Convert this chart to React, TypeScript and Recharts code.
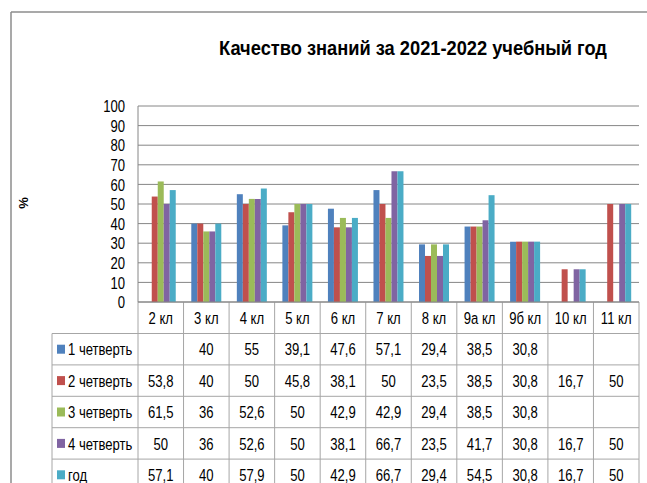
import React from 'react';
import { BarChart, Bar, XAxis, YAxis, CartesianGrid, Customized } from 'recharts';

const categories = ['2 кл', '3 кл', '4 кл', '5 кл', '6 кл', '7 кл', '8 кл', '9а кл', '9б кл', '10 кл', '11 кл'];
const q1 = [null, 40, 55, 39.1, 47.6, 57.1, 29.4, 38.5, 30.8, null, null];
const q2 = [53.8, 40, 50, 45.8, 38.1, 50, 23.5, 38.5, 30.8, 16.7, 50];
const q3 = [61.5, 36, 52.6, 50, 42.9, 42.9, 29.4, 38.5, 30.8, null, null];
const q4 = [50, 36, 52.6, 50, 38.1, 66.7, 23.5, 41.7, 30.8, 16.7, 50];
const year = [57.1, 40, 57.9, 50, 42.9, 66.7, 29.4, 54.5, 30.8, 16.7, 50];
const seriesNames = ['1 четверть', '2 четверть', '3 четверть', '4 четверть', 'год'];
const yTicks = [0, 10, 20, 30, 40, 50, 60, 70, 80, 90, 100];
const title = 'Качество знаний за 2021-2022 учебный год';

const seriesValues = [q1, q2, q3, q4, year];
const colors = ['#4F81BD', '#C0504D', '#9BBB59', '#8064A2', '#4BACC6'];
const keys = ['q1', 'q2', 'q3', 'q4', 'year'];

const data = categories.map((c, i) => {
  const row: any = { name: c };
  keys.forEach((k, s) => { row[k] = seriesValues[s][i]; });
  return row;
});

const W = 647;
const H = 483;
const PLOT_LEFT = 138;
const PLOT_RIGHT = 639;
const PLOT_TOP = 106;
const PLOT_BOTTOM = 302;
const FONT = '"Liberation Sans", Arial, sans-serif';
const SX = 0.77;
const FS = 17;
const fmt = (v: number | null) => (v === null || v === undefined ? '' : String(v).replace('.', ','));

const NText = ({ x, y, anchor = 'middle', size = FS, sx = SX, weight = 'normal', children }: any) => (
  <text
    transform={`translate(${x},${y}) scale(${sx},1)`}
    x={0}
    y={0}
    textAnchor={anchor}
    dominantBaseline="central"
    fontSize={size}
    fontWeight={weight}
    fontFamily={FONT}
    fill="#000"
  >
    {children}
  </text>
);

const XTick = (props: any) => {
  const { x, payload } = props;
  return <NText x={x} y={318}>{payload.value}</NText>;
};

const YTick = (props: any) => {
  const { y, payload } = props;
  return <NText x={125} y={y} anchor="end">{payload.value}</NText>;
};

const TableLayer = () => {
  const band = (PLOT_RIGHT - PLOT_LEFT) / categories.length;
  const headerBottom = 333.5;
  const rowH = 31.4;
  const tableLeft = 52;
  const lines: any[] = [];
  const lineColor = '#A6A6A6';
  for (let i = 0; i <= categories.length; i++) {
    const x = PLOT_LEFT + i * band;
    lines.push(<line key={'v' + i} x1={x} x2={x} y1={PLOT_BOTTOM} y2={H} stroke={lineColor} strokeWidth={1} />);
  }
  lines.push(<line key="vl" x1={tableLeft} x2={tableLeft} y1={headerBottom} y2={H} stroke={lineColor} strokeWidth={1} />);
  for (let r = 0; r < seriesNames.length; r++) {
    const y = headerBottom + r * rowH;
    lines.push(<line key={'h' + r} x1={tableLeft} x2={PLOT_RIGHT} y1={y} y2={y} stroke={lineColor} strokeWidth={1} />);
  }
  const texts: any[] = [];
  seriesNames.forEach((name, r) => {
    const cy = headerBottom + r * rowH + rowH / 2;
    texts.push(<rect key={'k' + r} x={57} y={cy - 4.5} width={8} height={9} fill={colors[r]} />);
    texts.push(<NText key={'n' + r} x={68} y={cy} anchor="start">{name}</NText>);
    seriesValues[r].forEach((v, i) => {
      const cx = PLOT_LEFT + (i + 0.5) * band;
      texts.push(<NText key={'t' + r + '_' + i} x={cx} y={cy}>{fmt(v)}</NText>);
    });
  });
  return (
    <g>
      <line x1={11} x2={W} y1={12} y2={12} stroke="#8C8C8C" strokeWidth={1.5} />
      <line x1={11} x2={11} y1={12} y2={H} stroke="#8C8C8C" strokeWidth={1.5} />
      <NText x={413} y={48} size={21} sx={0.87} weight="bold">{title}</NText>
      <text x={23} y={203} textAnchor="middle" dominantBaseline="central" fontSize={13} fontWeight="bold" fontFamily={FONT} fill="#000" transform="rotate(-90 23 203)">%</text>
      {lines}
      {texts}
    </g>
  );
};

export default function App() {
  return (
    <div style={{ position: 'absolute', left: 0, top: 0, width: W, height: H, background: '#fff' }}>
      <BarChart
        width={W}
        height={H}
        data={data}
        margin={{ top: PLOT_TOP, right: W - PLOT_RIGHT, left: PLOT_LEFT - 60, bottom: H - PLOT_BOTTOM - 30 }}
        barGap={0}
        barCategoryGap="17%"
      >
        <CartesianGrid vertical={false} stroke="#868686" strokeWidth={1} />
        <XAxis
          dataKey="name"
          height={30}
          axisLine={{ stroke: '#868686' }}
          tickLine={false}
          tickSize={0}
          interval={0}
          tick={<XTick />}
        />
        <YAxis
          width={60}
          domain={[0, 100]}
          ticks={yTicks}
          axisLine={{ stroke: '#868686' }}
          tickLine={false}
          tickSize={0}
          interval={0}
          tick={<YTick />}
        />
        {keys.map((k, s) => (
          <Bar key={k} dataKey={k} fill={colors[s]} isAnimationActive={false} />
        ))}
        <Customized component={<TableLayer />} />
      </BarChart>
    </div>
  );
}
